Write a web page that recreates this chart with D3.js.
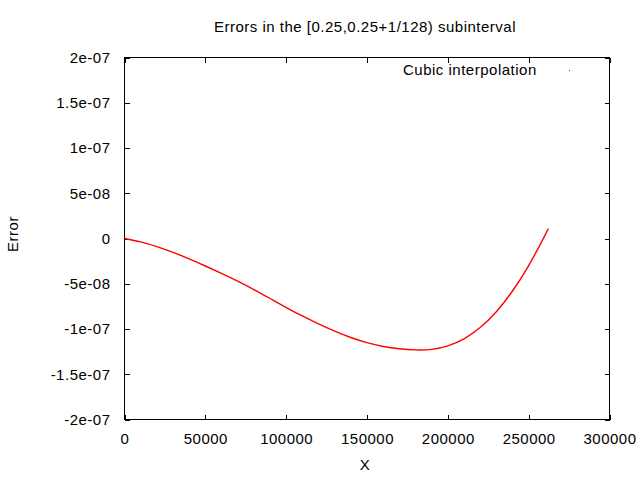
<!DOCTYPE html>
<html>
<head>
<meta charset="utf-8">
<script src="https://cdn.jsdelivr.net/npm/d3@7"></script>
<style>
  html, body { margin: 0; padding: 0; background: #fff; }
  svg { display: block; }
  text { font-family: "Liberation Sans", Arial, sans-serif; font-size: 15px; letter-spacing: 0.5px; fill: #000; }
</style>
</head>
<body>
<svg id="chart" width="640" height="480"></svg>
<script>
// Data
const xValues = [0, 10000, 20000, 30000, 40000, 50000, 60000, 70000, 80000, 90000, 100000,
                 110000, 120000, 130000, 140000, 150000, 160000, 170000, 180000, 190000, 200000,
                 210000, 220000, 230000, 240000, 250000, 260000, 262144];
const errorValues = [0, -0.38e-8, -0.90e-8, -1.53e-8, -2.25e-8, -3.04e-8, -3.86e-8, -4.72e-8,
                     -5.64e-8, -6.63e-8, -7.63e-8, -8.56e-8, -9.44e-8, -10.24e-8, -10.94e-8,
                     -11.51e-8, -11.93e-8, -12.19e-8, -12.31e-8, -12.25e-8, -11.86e-8, -11.08e-8,
                     -9.84e-8, -8.09e-8, -5.80e-8, -3.00e-8, 0.32e-8, 1.10e-8];
const xTicks = [0, 50000, 100000, 150000, 200000, 250000, 300000];
const xTickLabels = ["0", "50000", "100000", "150000", "200000", "250000", "300000"];
const yTicks = [2e-7, 1.5e-7, 1e-7, 5e-8, 0, -5e-8, -1e-7, -1.5e-7, -2e-7];
const yTickLabels = ["2e-07", "1.5e-07", "1e-07", "5e-08", "0", "-5e-08", "-1e-07", "-1.5e-07", "-2e-07"];
const titleText = "Errors in the [0.25,0.25+1/128) subinterval";
const xTitle = "X";
const yTitle = "Error";
const seriesName = "Cubic interpolation";

const svg = d3.select("#chart");
const L = 124.5, R = 609.5, T = 57.5, B = 419.5;
const x = d3.scaleLinear().domain([0, 300000]).range([L, R]);
const y = d3.scaleLinear().domain([-2e-7, 2e-7]).range([B, T]);
const tickLen = 5;

const xLab = d => xTickLabels[xTicks.indexOf(d)];
const yLab = d => yTickLabels[yTicks.indexOf(d)];

const gB = svg.append("g").attr("transform", `translate(0,${B})`)
  .call(d3.axisBottom(x).tickValues(xTicks).tickFormat(xLab).tickSizeInner(-tickLen).tickSizeOuter(0).tickPadding(18));
const gT = svg.append("g").attr("transform", `translate(0,${T})`)
  .call(d3.axisTop(x).tickValues(xTicks).tickFormat("").tickSizeInner(-tickLen).tickSizeOuter(0));
const gL = svg.append("g").attr("transform", `translate(${L},0)`)
  .call(d3.axisLeft(y).tickValues(yTicks).tickFormat(yLab).tickSizeInner(-tickLen).tickSizeOuter(0).tickPadding(14));
const gR = svg.append("g").attr("transform", `translate(${R},0)`)
  .call(d3.axisRight(y).tickValues(yTicks).tickFormat("").tickSizeInner(-tickLen).tickSizeOuter(0));

[gB, gT, gL, gR].forEach(g => {
  g.select(".domain").remove();
  g.selectAll("line").attr("stroke", "#000").attr("shape-rendering", "crispEdges");
  g.selectAll("text").attr("font-family", null).attr("font-size", null).attr("fill", "#000");
});
gB.selectAll("text").attr("dy", null).attr("y", 24);
gL.selectAll("text").attr("dy", "0.32em").attr("x", -14);

// Border
svg.append("rect").attr("x", L).attr("y", T).attr("width", R - L).attr("height", B - T)
  .attr("fill", "none").attr("stroke", "#000").attr("stroke-width", 1).attr("shape-rendering", "crispEdges");

// Curve
const pts = xValues.map((v, i) => [v, errorValues[i]]);
svg.append("path").datum(pts)
  .attr("fill", "none").attr("stroke", "#ff0000").attr("stroke-width", 1.4)
  .attr("d", d3.line().x(d => x(d[0])).y(d => y(d[1])).curve(d3.curveNatural));

// Titles
svg.append("text").attr("x", 365).attr("y", 32).attr("text-anchor", "middle").text(titleText);
svg.append("text").attr("x", 365).attr("y", 470).attr("text-anchor", "middle").text(xTitle);
svg.append("text").attr("transform", "translate(18,234) rotate(-90)").attr("text-anchor", "middle").text(yTitle);

// Legend
svg.append("text").attr("x", 403).attr("y", 75).text(seriesName);
svg.append("rect").attr("x", 569).attr("y", 70).attr("width", 1).attr("height", 1).attr("fill", "#ff0000");
</script>
</body>
</html>
